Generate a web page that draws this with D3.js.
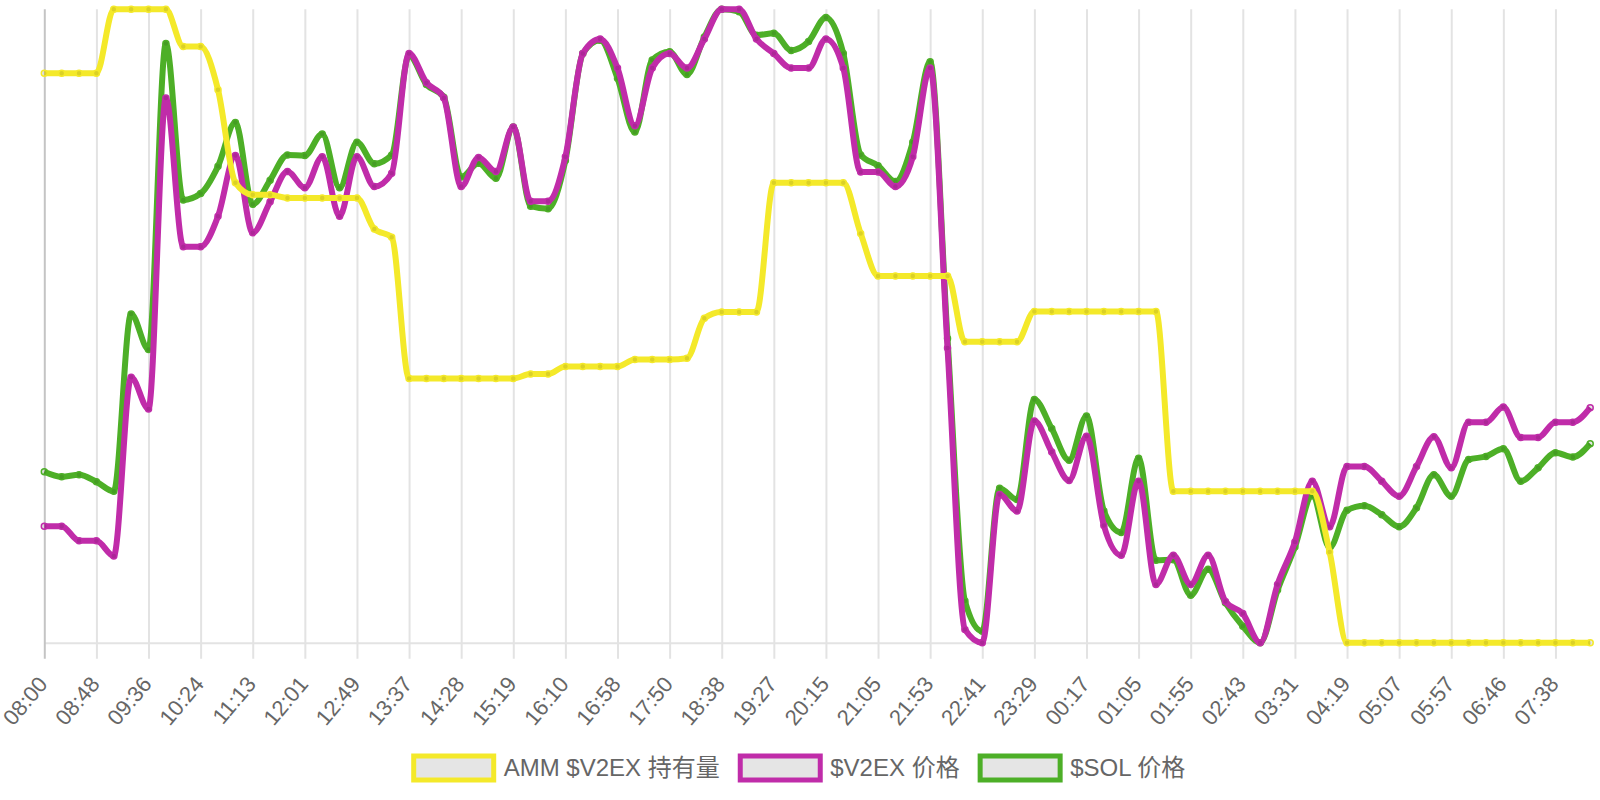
<!DOCTYPE html>
<html>
<head>
<meta charset="utf-8">
<script src="https://cdn.jsdelivr.net/npm/d3@7"></script>
<style>
  body { margin: 0; background: #fff; }
  svg { display: block; font-family: "Liberation Sans", Arial, "Noto Sans CJK SC", sans-serif; }
</style>
</head>
<body>
<svg id="chart" width="1600" height="800"></svg>
<script>
// 90 samples, roughly every 16 min from 08:00 to 07:55 next day.
// y axes are hidden, so values are read as position between each series' min (0) and max (100)
var tickLabels = ["08:00", "08:48", "09:36", "10:24", "11:13", "12:01", "12:49", "13:37", "14:28", "15:19",
  "16:10", "16:58", "17:50", "18:38", "19:27", "20:15", "21:05", "21:53", "22:41", "23:29",
  "00:17", "01:05", "01:55", "02:43", "03:31", "04:19", "05:07", "05:57", "06:46", "07:38"];

var ammHolding = [89.9, 89.9, 89.9, 89.9, 100, 100, 100, 100, 94.1, 94.1,
  87.3, 72.6, 70.7, 70.7, 70.2, 70.2, 70.2, 70.2, 70.2, 65.3,
  64.0, 41.7, 41.7, 41.7, 41.7, 41.7, 41.7, 41.7, 42.4, 42.4,
  43.6, 43.6, 43.6, 43.6, 44.7, 44.7, 44.7, 44.9, 51.2, 52.2,
  52.2, 52.2, 72.6, 72.6, 72.6, 72.6, 72.6, 64.6, 57.9, 57.9,
  57.9, 57.9, 57.9, 47.5, 47.5, 47.5, 47.5, 52.3, 52.3, 52.3,
  52.3, 52.3, 52.3, 52.3, 52.3, 23.9, 23.9, 23.9, 23.9, 23.9,
  23.9, 23.9, 23.9, 23.9, 14.3, 0, 0, 0, 0, 0,
  0, 0, 0, 0, 0, 0, 0, 0, 0, 0];

var v2exPrice = [18.4, 18.4, 16.1, 16.1, 13.7, 41.9, 36.9, 86.0, 62.5, 62.5,
  67.3, 76.9, 64.7, 69.6, 74.4, 71.8, 76.7, 67.3, 76.7, 72.0,
  74.1, 93.0, 88.4, 86.0, 72.0, 76.6, 74.4, 81.4, 69.7, 69.7,
  76.7, 93.0, 95.3, 90.7, 81.6, 90.7, 93.0, 90.7, 95.3, 100,
  100, 95.3, 93.0, 90.7, 90.7, 95.3, 90.7, 74.3, 74.3, 72.0,
  76.7, 90.7, 46.5, 2.1, 0, 23.4, 20.8, 35.0, 30.1, 25.6,
  32.6, 18.5, 13.8, 25.5, 9.2, 13.8, 9.2, 13.8, 6.5, 4.6,
  0, 9.2, 15.9, 25.5, 18.3, 27.8, 27.8, 25.5, 23.1, 27.8,
  32.5, 27.6, 34.8, 34.8, 37.2, 32.4, 32.4, 34.8, 34.8, 37.1];

var solPrice = [27.0, 26.2, 26.5, 25.4, 23.9, 51.9, 46.3, 94.6, 69.9, 70.9,
  75.2, 82.1, 69.2, 73.0, 77.0, 76.9, 80.3, 71.8, 79.0, 75.6,
  77.0, 92.7, 88.1, 86.1, 73.5, 75.7, 73.3, 81.4, 68.9, 68.5,
  76.1, 93.0, 95.1, 89.1, 80.6, 92.0, 93.3, 89.7, 95.6, 100,
  99.6, 95.9, 96.2, 93.5, 94.9, 98.7, 93.0, 77.0, 75.3, 72.8,
  79.0, 91.7, 48.0, 6.6, 1.8, 24.4, 22.6, 38.4, 33.8, 28.8,
  35.8, 20.8, 17.4, 29.1, 13.0, 13.1, 7.5, 11.6, 6.3, 2.6,
  0, 8.3, 15.1, 23.2, 15.0, 20.9, 21.6, 20.2, 18.3, 21.3,
  26.5, 23.1, 28.9, 29.4, 30.6, 25.5, 27.6, 30.0, 29.3, 31.4];

var seriesNames = ["AMM $V2EX 持有量", "$V2EX 价格", "$SOL 价格"];
var seriesColors = ["#f4e92a", "#c02ca9", "#4daf27"];

var datasets = [
  {name: seriesNames[0], color: seriesColors[0], values: ammHolding},
  {name: seriesNames[1], color: seriesColors[1], values: v2exPrice},
  {name: seriesNames[2], color: seriesColors[2], values: solPrice}
];

// note: "top" would clash with window.top
var plotLeft = 44.3, plotRight = 1590.2, plotTop = 9.2, plotBottom = 642.7;
var svg = d3.select("#chart");

var x = d3.scaleLinear().domain([0, ammHolding.length - 1]).range([plotLeft, plotRight]);
var tickIdx = tickLabels.map(function(d, i) { return i * 3; });

// x axis: gridlines run up through the plot, ticks hang below
var xAxis = d3.axisBottom(x)
  .tickValues(tickIdx)
  .tickFormat(function(d) { return tickLabels[d / 3]; })
  .tickSizeInner(16)
  .tickSizeOuter(0);

var axisG = svg.append("g")
  .attr("transform", "translate(0," + plotBottom + ")")
  .call(xAxis)
  .attr("font-family", null)
  .attr("font-size", null);

axisG.select(".domain").attr("stroke", "#e3e3e3").attr("stroke-width", 2);
axisG.selectAll(".tick line")
  .attr("y1", plotTop - plotBottom)
  .attr("stroke", function(d) { return d === 0 ? "#c4c4c4" : "#e3e3e3"; })
  .attr("stroke-width", 2);
axisG.selectAll(".tick text")
  .attr("x", 0).attr("y", 0).attr("dy", "0.35em")
  .attr("transform", "translate(-2,37) rotate(-50)")
  .attr("text-anchor", "end")
  .attr("fill", "#666")
  .style("font-size", "22px");

// each series has its own hidden y axis, spanning its min..max
var plot = svg.append("g");
datasets.slice().reverse().forEach(function(ds) {
  var y = d3.scaleLinear().domain(d3.extent(ds.values)).range([plotBottom, plotTop]);
  var line = d3.line()
    .x(function(d, i) { return x(i); })
    .y(function(d) { return y(d); })
    .curve(d3.curveMonotoneX);

  var g = plot.append("g");
  g.append("path")
    .datum(ds.values)
    .attr("d", line)
    .attr("fill", "none")
    .attr("stroke", ds.color)
    .attr("stroke-width", 6)
    .attr("stroke-linejoin", "round");

  g.selectAll("circle")
    .data(ds.values)
    .enter().append("circle")
    .attr("cx", function(d, i) { return x(i); })
    .attr("cy", function(d) { return y(d); })
    .attr("r", 3)
    .attr("fill", "rgba(0,0,0,0.1)")
    .attr("stroke", ds.color)
    .attr("stroke-width", 1.5);
});

// legend, centred under the plot
var legend = svg.append("g").attr("transform", "translate(0,768)");
var items = legend.selectAll("g")
  .data(datasets)
  .enter().append("g");

items.append("rect")
  .attr("x", 0).attr("y", -12)
  .attr("width", 80).attr("height", 24)
  .attr("fill", "rgba(0,0,0,0.1)")
  .attr("stroke", function(d) { return d.color; })
  .attr("stroke-width", 5);

items.append("text")
  .attr("x", 90)
  .attr("dy", "0.35em")
  .attr("fill", "#666")
  .style("font-size", "24px")
  .text(function(d) { return d.name; });

var widths = [];
items.each(function() { widths.push(this.getBBox().width); });
var gap = 20.5;
var total = d3.sum(widths) + gap * (widths.length - 1);
var cursor = 797 - total / 2;
items.attr("transform", function(d, i) {
  var pos = cursor + 2.5;
  cursor += widths[i] + gap;
  return "translate(" + pos + ",0)";
});
</script>
</body>
</html>
